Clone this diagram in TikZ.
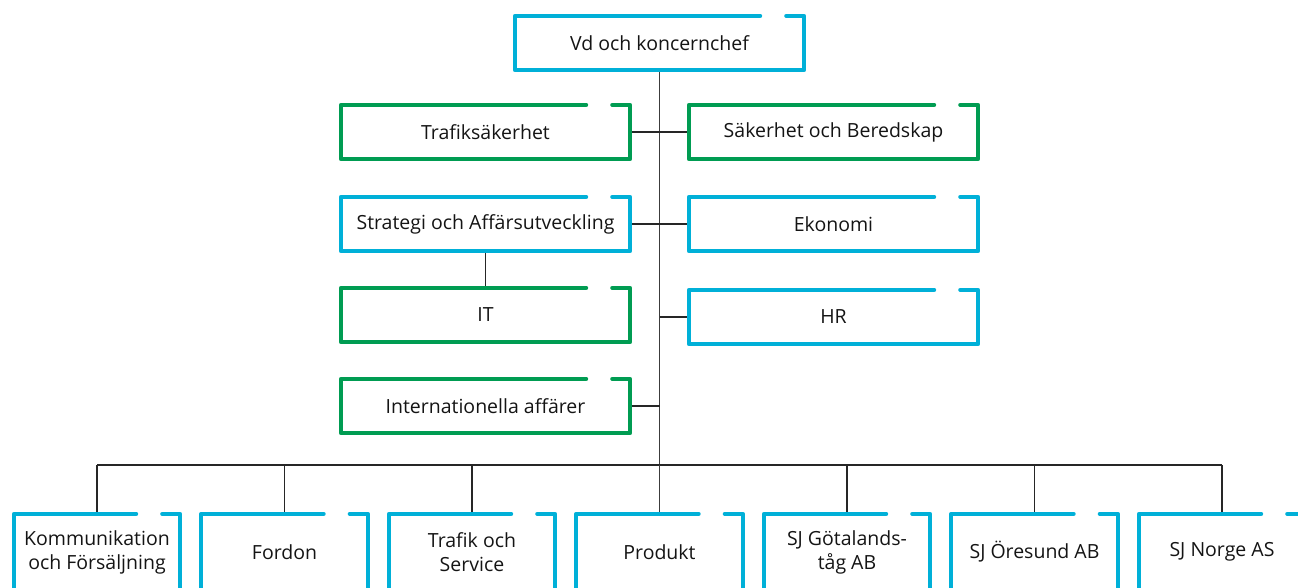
\documentclass[tikz,border=0pt]{standalone}
\usepackage{fontspec}
\setmainfont{Open Sans}
\definecolor{sjblue}{RGB}{0,176,216}
\definecolor{sjgreen}{RGB}{0,156,82}
\definecolor{linkgray}{RGB}{60,60,60}
\definecolor{txt}{RGB}{20,20,20}
\begin{document}
\begin{tikzpicture}[x=1pt,y=-1pt,
  box/.style={minimum width=289pt,minimum height=54pt,inner sep=0pt,text=txt,
    font=\fontsize{19.5}{24}\selectfont,align=center},
  unit/.style={minimum width=166pt,minimum height=76pt,inner sep=0pt,text=txt,
    font=\fontsize{19.5}{24}\selectfont,align=center},
  frame/.style={line width=4pt,line cap=round,line join=round},
  trunk/.style={draw=linkgray,line width=1.8pt},
  link/.style={draw=black!85,line width=1.3pt}]
\useasboundingbox (0,0) rectangle (1298,587);
\clip (0,0) rectangle (1298,587);
% nodes
\node[box] (ceo) at (659.5,43) {Vd och koncernchef};
\node[box] (traf) at (485.5,132) {Trafiksäkerhet};
\node[box] (sak) at (833.5,132) {Säkerhet och Beredskap};
\node[box] (strat) at (485.5,224) {Strategi och Affärsutveckling};
\node[box] (eko) at (833.5,224) {Ekonomi};
\node[box] (it) at (485.5,315) {IT};
\node[box] (hr) at (833.5,317) {HR};
\node[box] (intl) at (485.5,406) {Internationella affärer};
\node[unit] (b1) at (97,552) {Kommunikation\\och Försäljning};
\node[unit] (b2) at (284.5,552) {Fordon};
\node[unit] (b3) at (472,552) {Trafik och\\Service};
\node[unit] (b4) at (659.5,552) {Produkt};
\node[unit] (b5) at (847,552) {SJ Götalands-\\tåg AB};
\node[unit] (b6) at (1034.5,552) {SJ Öresund AB};
\node[unit] (b7) at (1222,552) {SJ Norge AS};
\coordinate (bus) at (659.5,465);
% connectors
\draw[trunk] (ceo.south) -- (bus);
\draw[link] (traf.east) -- (sak.west);
\draw[link] (strat.east) -- (eko.west);
\draw[link] (strat.south) -- (it.north);
\draw[link] (hr.west) -- (hr.west -| bus);
\draw[link] (intl.east) -- (intl.east -| bus);
\draw[link] (b1.north |- bus) -- (b7.north |- bus);
\foreach \n in {b1,b2,b3,b5,b6,b7}
  \draw[link] (\n.north) -- (\n.north |- bus);
\draw[trunk] (bus) -- (b4.north);
% frames
\foreach \n/\c in {ceo/sjblue,traf/sjgreen,sak/sjgreen,strat/sjblue,eko/sjblue,
  it/sjgreen,hr/sjblue,intl/sjgreen,b1/sjblue,b2/sjblue,b3/sjblue,b4/sjblue,
  b5/sjblue,b6/sjblue,b7/sjblue}
  \draw[frame,draw=\c] ([xshift=-18pt]\n.north east) -- (\n.north east)
    -- (\n.south east) -- (\n.south west) -- (\n.north west)
    -- ([xshift=-44pt]\n.north east);
\end{tikzpicture}
\end{document}
